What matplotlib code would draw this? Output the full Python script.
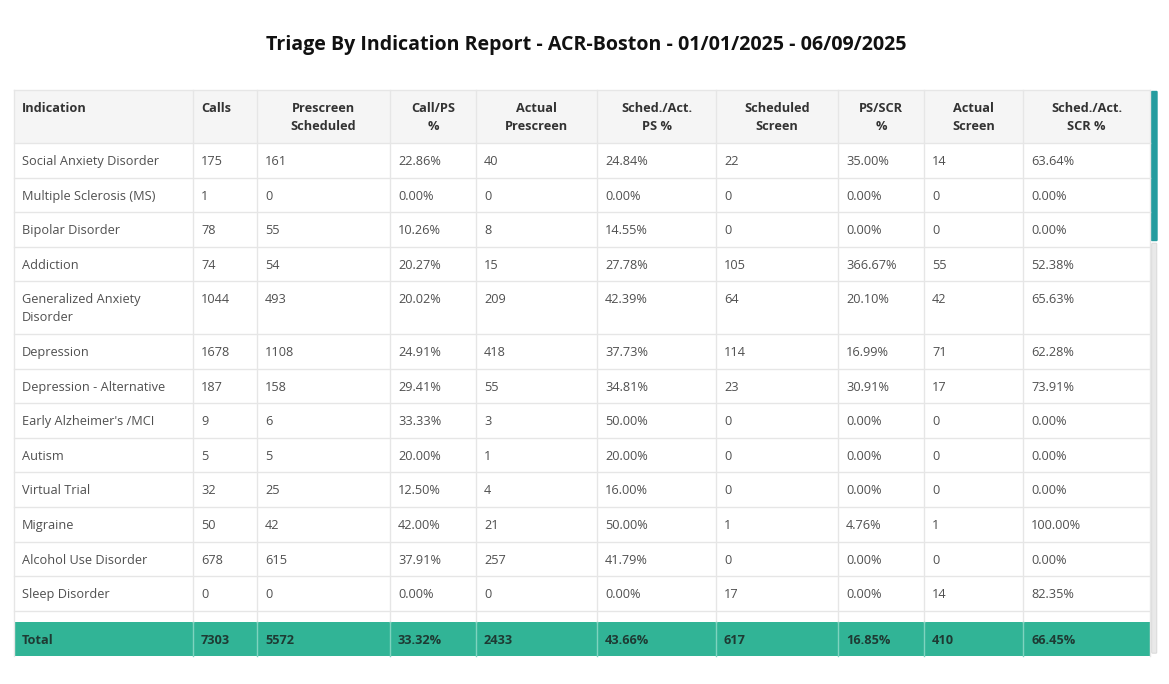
import matplotlib.pyplot as plt
from matplotlib.patches import Rectangle, FancyBboxPatch

plt.rcParams['font.family'] = ['Open Sans', 'DejaVu Sans']

title = 'Triage By Indication Report - ACR-Boston - 01/01/2025 - 06/09/2025'

headers = ['Indication', 'Calls', 'Prescreen\nScheduled', 'Call/PS\n%', 'Actual\nPrescreen',
           'Sched./Act.\nPS %', 'Scheduled\nScreen', 'PS/SCR\n%', 'Actual\nScreen', 'Sched./Act.\nSCR %']

indications = ['Social Anxiety Disorder', 'Multiple Sclerosis (MS)', 'Bipolar Disorder', 'Addiction',
               'Generalized Anxiety\nDisorder', 'Depression', 'Depression - Alternative',
               "Early Alzheimer's /MCI", 'Autism', 'Virtual Trial', 'Migraine',
               'Alcohol Use Disorder', 'Sleep Disorder']
calls = [175, 1, 78, 74, 1044, 1678, 187, 9, 5, 32, 50, 678, 0]
ps_sched = [161, 0, 55, 54, 493, 1108, 158, 6, 5, 25, 42, 615, 0]
call_ps = ['22.86%', '0.00%', '10.26%', '20.27%', '20.02%', '24.91%', '29.41%', '33.33%',
           '20.00%', '12.50%', '42.00%', '37.91%', '0.00%']
ps_actual = [40, 0, 8, 15, 209, 418, 55, 3, 1, 4, 21, 257, 0]
sa_ps = ['24.84%', '0.00%', '14.55%', '27.78%', '42.39%', '37.73%', '34.81%', '50.00%',
         '20.00%', '16.00%', '50.00%', '41.79%', '0.00%']
scr_sched = [22, 0, 0, 105, 64, 114, 23, 0, 0, 0, 1, 0, 17]
ps_scr = ['35.00%', '0.00%', '0.00%', '366.67%', '20.10%', '16.99%', '30.91%', '0.00%',
          '0.00%', '0.00%', '4.76%', '0.00%', '0.00%']
scr_actual = [14, 0, 0, 55, 42, 71, 17, 0, 0, 0, 1, 0, 14]
sa_scr = ['63.64%', '0.00%', '0.00%', '52.38%', '65.63%', '62.28%', '73.91%', '0.00%',
          '0.00%', '0.00%', '100.00%', '0.00%', '82.35%']

totals = ['Total', '7303', '5572', '33.32%', '2433', '43.66%', '617', '16.85%', '410', '66.45%']

# layout (pixels)
col_w = [179, 64, 133, 86, 121, 119, 122, 86, 99, 127]
x0, y_head, head_h, row_h, line_h = 14, 90, 53, 34.6, 18
grid = '#e6e6e6'
txt = '#505050'
teal = '#31b496'

fig = plt.figure(figsize=(11.69, 6.84), dpi=100)
ax = fig.add_axes([0, 0, 1, 1])
ax.set_xlim(0, 1169)
ax.set_ylim(684, 0)
ax.axis('off')

ax.text(586, 45, title, ha='center', va='center', fontsize=14.1, fontweight='bold', color='#111111')

xs = [x0]
for w in col_w:
    xs.append(xs[-1] + w)
x1 = xs[-1]

# header
ax.add_patch(Rectangle((x0, y_head), x1 - x0, head_h, facecolor='#f5f5f5', edgecolor='none'))
for i, h in enumerate(headers):
    if i < 2:
        ax.text(xs[i] + 8, y_head + 19, h, ha='left', va='center', fontsize=9.2,
                fontweight='bold', color='#333333')
    else:
        for k, part in enumerate(h.split('\n')):
            ax.text((xs[i] + xs[i + 1]) / 2, y_head + 19 + k * line_h, part, ha='center',
                    va='center', fontsize=9.2, fontweight='bold', color='#333333')

# body rows
y = y_head + head_h
for r, name in enumerate(indications):
    n_lines = name.count('\n') + 1
    h = row_h + (n_lines - 1) * line_h
    vals = [name, calls[r], ps_sched[r], call_ps[r], ps_actual[r], sa_ps[r],
            scr_sched[r], ps_scr[r], scr_actual[r], sa_scr[r]]
    for i, v in enumerate(vals):
        for k, part in enumerate(str(v).split('\n')):
            ax.text(xs[i] + 8, y + 18.5 + k * line_h, part, ha='left', va='center',
                    fontsize=9.2, color=txt)
    y += h
    ax.plot([x0, x1], [y, y], color=grid, lw=1)
body_end = y + 11

# total row
tot_y = body_end
ax.add_patch(Rectangle((x0, tot_y), x1 - x0, row_h, facecolor=teal, edgecolor='none'))
for i, v in enumerate(totals):
    ax.text(xs[i] + 8, tot_y + row_h / 2 + 1, v, ha='left', va='center', fontsize=9.2,
            fontweight='bold', color='#1e3a33')

# grid lines
ax.plot([x0, x1], [y_head, y_head], color=grid, lw=1)
ax.plot([x0, x1], [y_head + head_h, y_head + head_h], color=grid, lw=1)
for xv in xs[1:-1]:
    ax.plot([xv, xv], [y_head, tot_y], color=grid, lw=1)
    ax.plot([xv, xv], [tot_y, tot_y + row_h], color='#7fd3bf', lw=1)
ax.plot([x0, x0], [y_head, tot_y + row_h], color=grid, lw=1)
ax.plot([x1, x1], [y_head, tot_y + row_h], color=grid, lw=1)

# scrollbar
ax.add_patch(FancyBboxPatch((1152.5, 244), 3.5, tot_y + row_h - 248, boxstyle='round,pad=0.8',
                            facecolor='#e9e9e9', edgecolor='#d5d5d5', lw=0.6))
ax.add_patch(FancyBboxPatch((1152, 92), 4.5, 148, boxstyle='round,pad=1.2',
                            facecolor='#259c9f', edgecolor='none'))

fig.savefig('out.png', dpi=100)
